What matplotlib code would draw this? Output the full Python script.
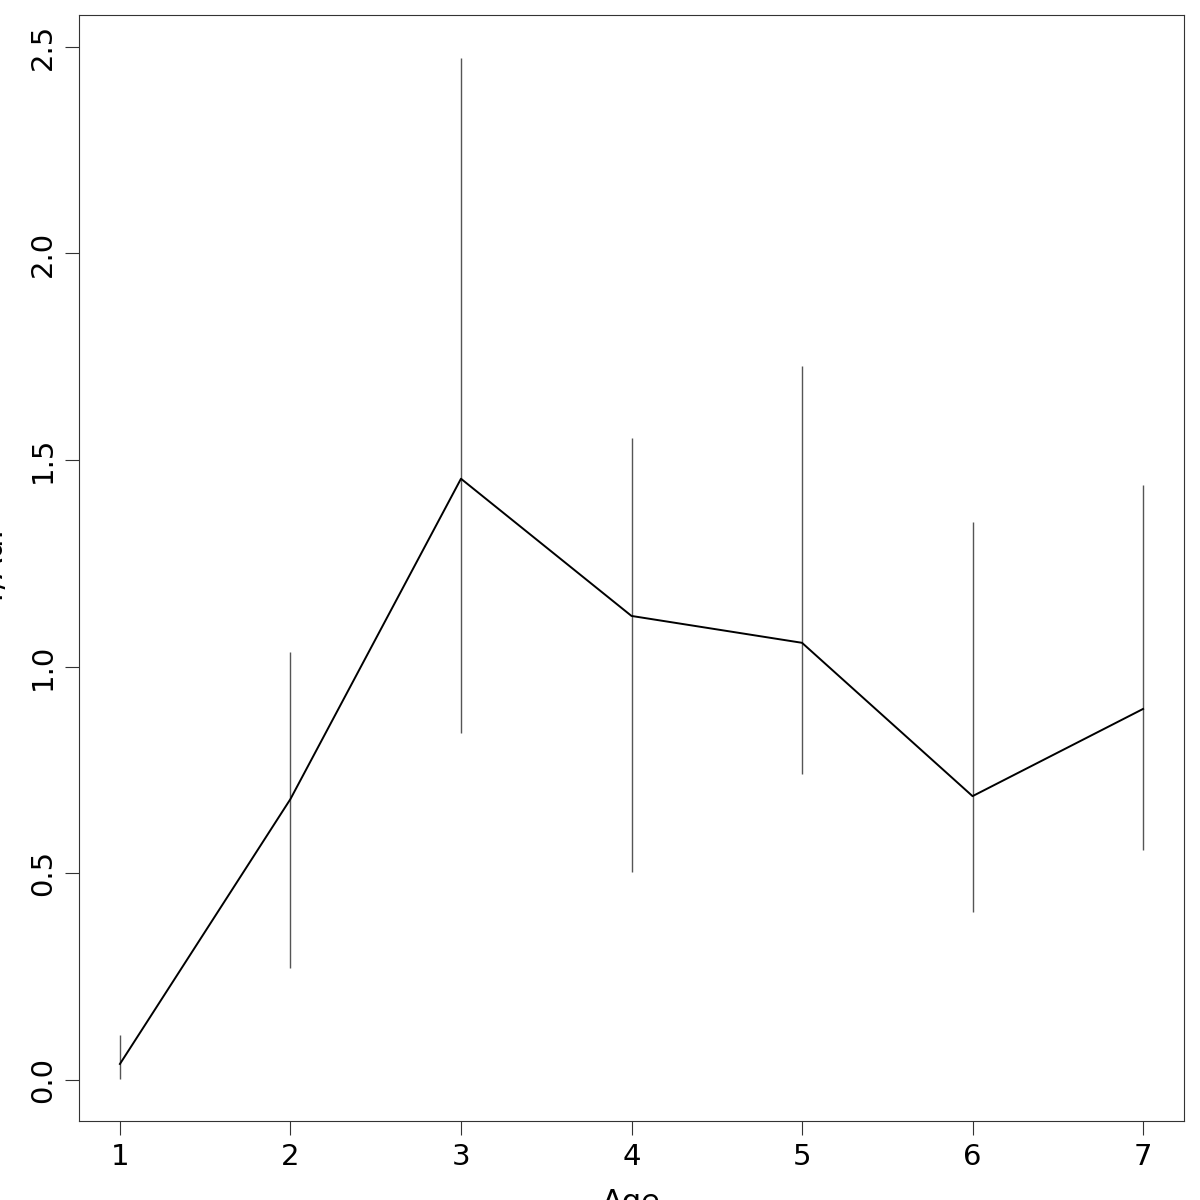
import matplotlib
matplotlib.use("Agg")
import matplotlib.pyplot as plt
import numpy as np

age = [1, 2, 3, 4, 5, 6, 7]
mean = [0.039, 0.680, 1.455, 1.123, 1.058, 0.687, 0.898]
lower = [0.002, 0.271, 0.840, 0.503, 0.741, 0.407, 0.557]
upper = [0.109, 1.036, 2.473, 1.554, 1.728, 1.350, 1.440]
xticks = [1, 2, 3, 4, 5, 6, 7]
yticks = [0.0, 0.5, 1.0, 1.5, 2.0, 2.5]
ytick_labels = ["0.0", "0.5", "1.0", "1.5", "2.0", "2.5"]

plt.rcParams['font.family'] = ['DejaVu Sans']
fig = plt.figure(figsize=(12, 12), dpi=100)
ax = fig.add_axes([79/1200, 1 - 1121/1200, (1184 - 79)/1200, (1121 - 15)/1200])

ax.vlines(age, lower, upper, colors="#555555", linewidth=1.0)
ax.plot(age, mean, color="black", linewidth=1.4)

ax.set_xlim(0.76, 7.24)
ax.set_ylim(-0.099, 2.577)
ax.set_xticks(xticks)
ax.set_xticklabels([str(v) for v in xticks])
ax.set_yticks(yticks)
ax.set_yticklabels(ytick_labels, rotation=90, va="center")
ax.tick_params(axis="both", labelsize=21, length=10, width=0.8, color="#333333", pad=6)
for s in ax.spines.values():
    s.set_linewidth(0.8)
    s.set_color("#333333")

ax.set_xlabel("Age", fontsize=22, labelpad=12)
ax.set_ylabel("Y/Ad.", fontsize=22, labelpad=14)

fig.savefig("out.png", dpi=100)
